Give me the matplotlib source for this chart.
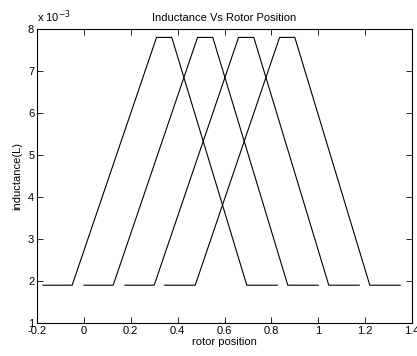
import matplotlib
matplotlib.use("Agg")
import matplotlib.pyplot as plt
from matplotlib.ticker import FuncFormatter

plt.rcParams['font.family'] = ['Liberation Sans', 'DejaVu Sans']

# breakpoints (rotor position) for each phase
x_phase1 = [-0.175, -0.05, 0.31, 0.375, 0.695, 0.825]
x_phase2 = [0.0, 0.125, 0.485, 0.55, 0.87, 1.0]
x_phase3 = [0.175, 0.30, 0.66, 0.725, 1.045, 1.175]
x_phase4 = [0.345, 0.475, 0.835, 0.90, 1.22, 1.35]
L_profile = [1.9e-3, 1.9e-3, 7.8e-3, 7.8e-3, 1.9e-3, 1.9e-3]

x_ticks = [-0.2, 0, 0.2, 0.4, 0.6, 0.8, 1, 1.2, 1.4]
y_ticks = [1e-3, 2e-3, 3e-3, 4e-3, 5e-3, 6e-3, 7e-3, 8e-3]

fig = plt.figure(figsize=(4.17, 3.56), dpi=100)
ax = fig.add_axes([37/417, 33/356, 375/417, 294/356])
for xs in (x_phase1, x_phase2, x_phase3, x_phase4):
    ax.plot(xs, L_profile, color='black', lw=0.8)

ax.set_xlim(-0.2, 1.4)
ax.set_ylim(1e-3, 8e-3)
ax.set_xticks(x_ticks)
ax.set_yticks(y_ticks)
ax.xaxis.set_major_formatter(FuncFormatter(lambda v, p: f"{v:g}"))
ax.yaxis.set_major_formatter(FuncFormatter(lambda v, p: f"{v*1e3:g}"))
ax.tick_params(direction='in', top=True, right=True, length=4, width=0.6, labelsize=8, pad=2)
for s in ax.spines.values():
    s.set_linewidth(0.8)

ax.set_title("Inductance Vs Rotor Position", fontsize=8, pad=6)
ax.set_xlabel("rotor position", fontsize=8, labelpad=1)
ax.set_ylabel("inductance(L)", fontsize=8, labelpad=4)
ax.text(0.0, 1.012, r"x 10$^{-3}$", transform=ax.transAxes, fontsize=8, ha='left', va='bottom')

fig.savefig("out.png", dpi=100, facecolor='white')
